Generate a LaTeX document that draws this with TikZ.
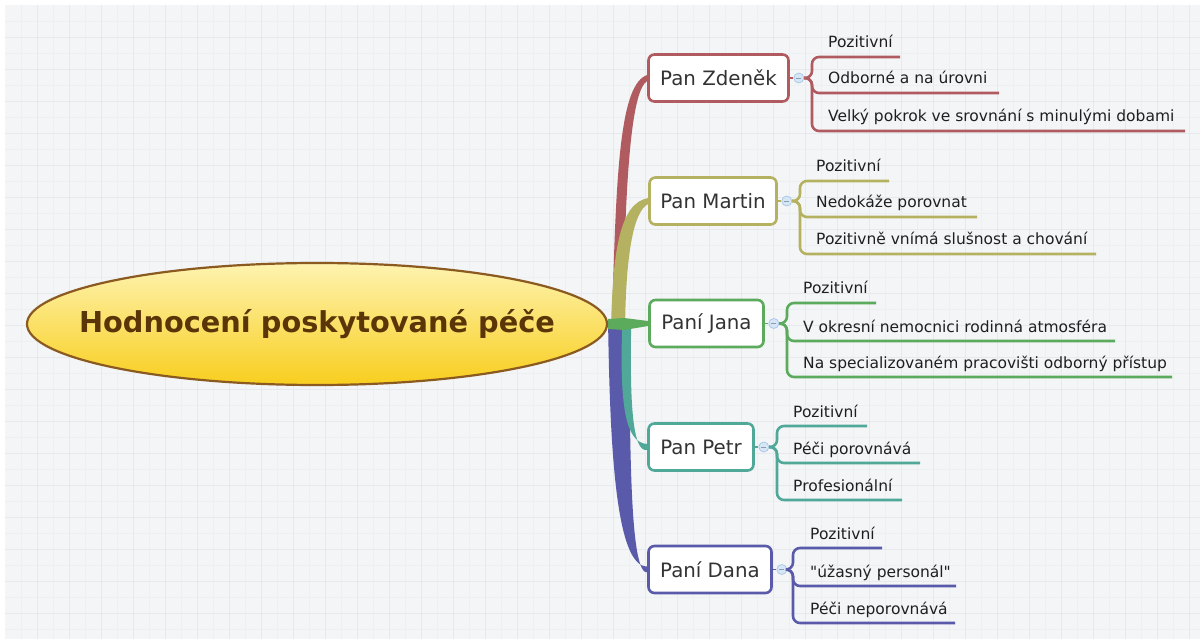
\documentclass[tikz,border=0pt]{standalone}
\usepackage{fontspec}
\setmainfont{DejaVu Sans}
\usetikzlibrary{calc,shapes.geometric}

\definecolor{paper}{HTML}{F3F5F7}
\definecolor{gridA}{HTML}{E6EAEE}
\definecolor{gridB}{HTML}{EDF0F3}
\definecolor{cZ}{HTML}{B05B60}
\definecolor{cM}{HTML}{B4B260}
\definecolor{cJ}{HTML}{5CAA5C}
\definecolor{cP}{HTML}{50A898}
\definecolor{cD}{HTML}{5A5AAA}
\definecolor{rootTop}{HTML}{FEF3B0}
\definecolor{rootBot}{HTML}{F8CE1E}
\definecolor{rootLine}{HTML}{8A5A20}
\definecolor{rootText}{HTML}{5A3508}
\definecolor{knobFill}{HTML}{D6E6F5}
\definecolor{knobLine}{HTML}{A6C6E6}

\pgfdeclarelayer{paperlayer}
\pgfdeclarelayer{links}
\pgfsetlayers{paperlayer,links,main}

\begin{document}
\begin{tikzpicture}[x=1pt,y=-1pt,
  topic/.style={draw=#1, line width=2.6pt, fill=white, rounded corners=6pt,
    minimum height=47pt, inner sep=0pt, text=black!80,
    font=\fontsize{19.8}{22}\selectfont},
  leaf/.style={anchor=base west, inner sep=0pt, text=black!88,
    font=\fontsize{15.5}{17}\selectfont},
  uline/.style={draw=#1, line width=2.6pt, rounded corners=7pt},
  stub/.style={draw=#1, line width=1.2pt},
  knob/.style={circle, draw=knobLine, fill=knobFill, line width=0.7pt,
    minimum size=10pt, inner sep=0pt,
    path picture={\draw[knobLine!80!black, line width=0.6pt]
      ($(path picture bounding box.west)+(2.5,0)$) --
      ($(path picture bounding box.east)+(-2.5,0)$);}},
]
\useasboundingbox (0,0) rectangle (1200,639);

% paper with a faint grid
\begin{pgfonlayer}{paperlayer}
  \fill[white] (0,0) rectangle (1200,639);
  \fill[paper] (5,5) rectangle (1200,639);
  \foreach \g in {21,53,...,1200} \draw[gridB, line width=0.6pt] (\g,5) -- (\g,639);
  \foreach \g in {37,69,...,1200} \draw[gridA, line width=0.6pt] (\g,5) -- (\g,639);
  \foreach \g in {21,53,...,639} \draw[gridB, line width=0.6pt] (5,\g) -- (1200,\g);
  \foreach \g in {37,69,...,639} \draw[gridA, line width=0.6pt] (5,\g) -- (1200,\g);
\end{pgfonlayer}

% central topic: the oval and its title
\node[ellipse, draw=rootLine, line width=2.2pt, top color=rootTop, bottom color=rootBot,
  minimum width=580pt, minimum height=122pt, inner sep=0pt]
  (root) at (317,324) {};
\node[inner sep=0pt, text=rootText, font=\fontsize{28.8}{30}\selectfont\bfseries]
  (title) at (root.center) {Hodnocení poskytované péče};

% main topics
\node[topic=cZ, minimum width=140pt] (zd) at (718.5,78)  {Pan Zdeněk};
\node[topic=cM, minimum width=127pt] (mt) at (713,201)   {Pan Martin};
\node[topic=cJ, minimum width=114pt] (ja) at (706.5,323.5) {Paní Jana};
\node[topic=cP, minimum width=105pt] (pe) at (701,447)   {Pan Petr};
\node[topic=cD, minimum width=123pt] (da) at (710,569.5) {Paní Dana};

% collapse knobs
\node[knob] (kz) at ($(zd.east)+(9,0)$) {};
\node[knob] (km) at ($(mt.east)+(9,0)$) {};
\node[knob] (kj) at ($(ja.east)+(9,0)$) {};
\node[knob] (kp) at ($(pe.east)+(9,0)$) {};
\node[knob] (kd) at ($(da.east)+(9,0)$) {};

% tapered branches from the central topic
\begin{pgfonlayer}{links}
  \fill[cZ] ($(root.east)+(4,-2)$) .. controls (616,170) and (620,84) .. ($(zd.west)+(0,-3)$)
    -- ($(zd.west)+(0,3)$) .. controls (632,90) and (625,170) .. ($(root.east)+(15,-2)$) -- cycle;
  \fill[cM] ($(root.east)+(3,0)$) .. controls (613,250) and (620,203) .. ($(mt.west)+(0,-3)$)
    -- ($(mt.west)+(0,3)$) .. controls (632,212) and (626,262) .. ($(root.east)+(17,0)$) -- cycle;
  \fill[cD] ($(root.east)+(0,0)$) .. controls (610,450) and (616,567) .. ($(da.west)+(0,-3)$)
    -- ($(da.west)+(0,3)$) .. controls (630,574) and (630,450) .. ($(root.east)+(21,0)$) -- cycle;
  \fill[cP] ($(root.east)+(14,4)$) .. controls (620,400) and (624,443) .. ($(pe.west)+(0,-3)$)
    -- ($(pe.west)+(0,3)$) .. controls (632,453) and (630,400) .. ($(root.east)+(23,4)$) -- cycle;
  \fill[cJ] ($(root.east)+(0,-5)$) -- ($(root.east)+(16,-6)$) -- ($(ja.west)+(0,-2.5)$)
    -- ($(ja.west)+(0,2.5)$) -- ($(root.east)+(16,6)$) -- ($(root.east)+(0,5)$) -- cycle;
\end{pgfonlayer}

% box-to-knob stubs
\draw[stub=cZ] (zd.east) -- (kz.west);
\draw[stub=cM] (mt.east) -- (km.west);
\draw[stub=cJ] (ja.east) -- (kj.west);
\draw[stub=cP] (pe.east) -- (kp.west);
\draw[stub=cD] (da.east) -- (kd.west);

% ---- Pan Zdeněk
\node[leaf] (z1) at (828,48)  {Pozitivní};
\node[leaf] (z2) at (828,84)  {Odborné a na úrovni};
\node[leaf] (z3) at (828,122) {Velký pokrok ve srovnání s minulými dobami};
\coordinate (z1a) at (812,57);  \coordinate (z1b) at (900,57);
\coordinate (z2a) at (812,93);  \coordinate (z2b) at (999,93);
\coordinate (z3a) at (812,131); \coordinate (z3b) at (1185,131);
\draw[uline=cZ] (kz.east) -| (z1a) -- (z1b);
\draw[uline=cZ] (kz.east) -| (z2a) -- (z2b);
\draw[uline=cZ] (kz.east) -| (z3a) -- (z3b);

% ---- Pan Martin
\node[leaf] (m1) at (816,172) {Pozitivní};
\node[leaf] (m2) at (816,208) {Nedokáže porovnat};
\node[leaf] (m3) at (816,245) {Pozitivně vnímá slušnost a chování};
\coordinate (m1a) at (800,181); \coordinate (m1b) at (889,181);
\coordinate (m2a) at (800,217); \coordinate (m2b) at (977,217);
\coordinate (m3a) at (800,254); \coordinate (m3b) at (1096,254);
\draw[uline=cM] (km.east) -| (m1a) -- (m1b);
\draw[uline=cM] (km.east) -| (m2a) -- (m2b);
\draw[uline=cM] (km.east) -| (m3a) -- (m3b);

% ---- Paní Jana
\node[leaf] (j1) at (803,294) {Pozitivní};
\node[leaf] (j2) at (803,332) {V okresní nemocnici rodinná atmosféra};
\node[leaf] (j3) at (803,368) {Na specializovaném pracovišti odborný přístup};
\coordinate (j1a) at (787,303); \coordinate (j1b) at (876,303);
\coordinate (j2a) at (787,341); \coordinate (j2b) at (1115,341);
\coordinate (j3a) at (787,377); \coordinate (j3b) at (1172,377);
\draw[uline=cJ] (kj.east) -| (j1a) -- (j1b);
\draw[uline=cJ] (kj.east) -| (j2a) -- (j2b);
\draw[uline=cJ] (kj.east) -| (j3a) -- (j3b);

% ---- Pan Petr
\node[leaf] (p1) at (793,417) {Pozitivní};
\node[leaf] (p2) at (793,454) {Péči porovnává};
\node[leaf] (p3) at (793,491) {Profesionální};
\coordinate (p1a) at (777,426); \coordinate (p1b) at (867,426);
\coordinate (p2a) at (777,463); \coordinate (p2b) at (920,463);
\coordinate (p3a) at (777,500); \coordinate (p3b) at (902,500);
\draw[uline=cP] (kp.east) -| (p1a) -- (p1b);
\draw[uline=cP] (kp.east) -| (p2a) -- (p2b);
\draw[uline=cP] (kp.east) -| (p3a) -- (p3b);

% ---- Paní Dana
\node[leaf] (d1) at (810,539) {Pozitivní};
\node[leaf] (d2) at (810,577) {\textquotedbl úžasný personál\textquotedbl};
\node[leaf] (d3) at (810,614) {Péči neporovnává};
\coordinate (d1a) at (793,548); \coordinate (d1b) at (882,548);
\coordinate (d2a) at (793,586); \coordinate (d2b) at (956,586);
\coordinate (d3a) at (793,623); \coordinate (d3b) at (955,623);
\draw[uline=cD] (kd.east) -| (d1a) -- (d1b);
\draw[uline=cD] (kd.east) -| (d2a) -- (d2b);
\draw[uline=cD] (kd.east) -| (d3a) -- (d3b);
\end{tikzpicture}
\end{document}
